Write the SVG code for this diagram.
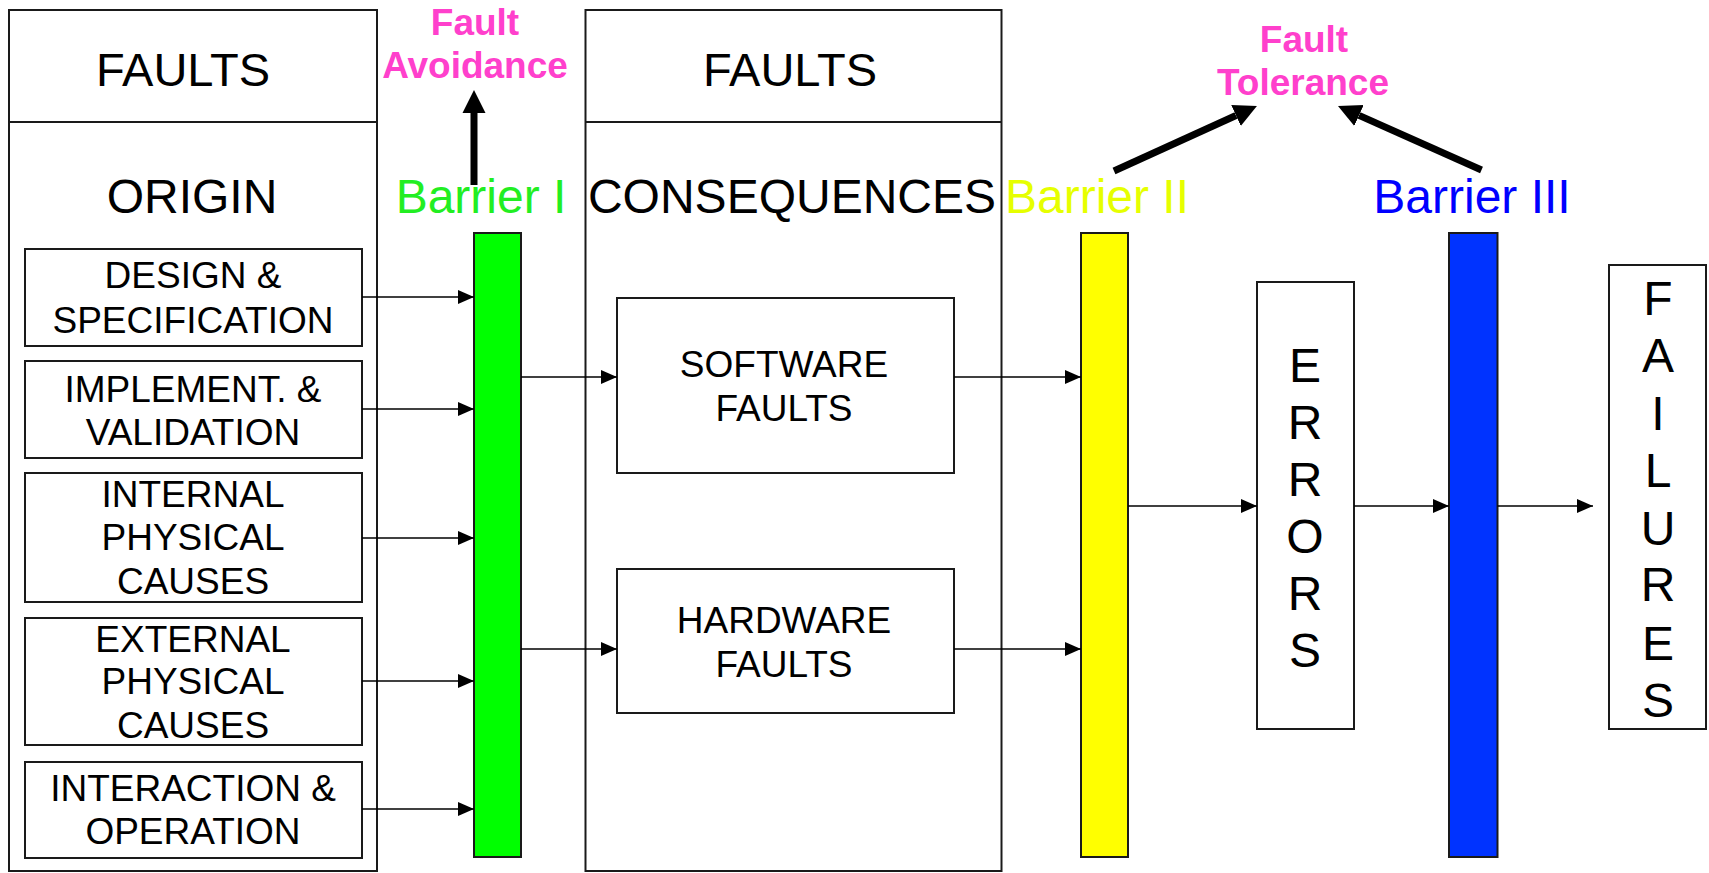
<svg xmlns="http://www.w3.org/2000/svg" width="1709" height="873" viewBox="0 0 1709 873">
  <defs>
    <marker id="tip" markerWidth="16" markerHeight="14" refX="16" refY="7" orient="auto" markerUnits="userSpaceOnUse">
      <path d="M0,0 L16,7 L0,14 z" fill="#000"/>
    </marker>
    <marker id="bigtip" markerWidth="24" markerHeight="24" refX="0" refY="12" orient="auto" markerUnits="userSpaceOnUse">
      <path d="M0,0.5 L23,12 L0,23.5 z" fill="#000"/>
    </marker>
    <style>
      .box { fill: #fff; stroke: #1a1a1a; stroke-width: 2; }
      .bar { stroke: #1a1a1a; stroke-width: 2; }
      .t { font-family: "Liberation Sans", Arial, sans-serif; text-anchor: middle; fill: #000; }
      .big { font-size: 48px; }
      .mid { font-size: 37px; }
      .col { font-size: 48px; }
      .pink { font-family: "Liberation Sans", Arial, sans-serif; font-weight: bold; font-size: 37px; fill: #FF40CC; text-anchor: middle; }
      .conn { stroke: #000; stroke-width: 1.5; fill: none; marker-end: url(#tip); }
      .thick { stroke: #000; stroke-width: 7; fill: none; marker-end: url(#bigtip); }
    </style>
  </defs>
  <rect width="1709" height="873" fill="#fff"/>

  <!-- Origin column -->
  <g id="origin-panel">
    <rect class="box" x="9" y="10" width="368" height="861"/>
    <line x1="9" y1="122" x2="377" y2="122" stroke="#1a1a1a" stroke-width="2"/>
    <text class="t big" x="183" y="86" style="font-size:47px">FAULTS</text>
    <text class="t big" x="192" y="213">ORIGIN</text>
  </g>

  <g id="design-spec">
    <rect class="box" x="25" y="249" width="337" height="97"/>
    <text class="t mid" x="193" y="288">DESIGN &amp;</text>
    <text class="t mid" x="193" y="333">SPECIFICATION</text>
  </g>
  <g id="implement-validation">
    <rect class="box" x="25" y="361" width="337" height="97"/>
    <text class="t mid" x="193" y="402">IMPLEMENT. &amp;</text>
    <text class="t mid" x="193" y="445">VALIDATION</text>
  </g>
  <g id="internal-physical">
    <rect class="box" x="25" y="473" width="337" height="129"/>
    <text class="t mid" x="193" y="507">INTERNAL</text>
    <text class="t mid" x="193" y="550">PHYSICAL</text>
    <text class="t mid" x="193" y="594">CAUSES</text>
  </g>
  <g id="external-physical">
    <rect class="box" x="25" y="618" width="337" height="127"/>
    <text class="t mid" x="193" y="652">EXTERNAL</text>
    <text class="t mid" x="193" y="694">PHYSICAL</text>
    <text class="t mid" x="193" y="738">CAUSES</text>
  </g>
  <g id="interaction-operation">
    <rect class="box" x="25" y="762" width="337" height="96"/>
    <text class="t mid" x="193" y="801">INTERACTION &amp;</text>
    <text class="t mid" x="193" y="844">OPERATION</text>
  </g>

  <!-- Barrier I -->
  <g id="barrier-1">
    <text class="t big" x="481" y="213" style="fill:#22EE22">Barrier I</text>
    <rect class="bar" x="474" y="233" width="47" height="624" fill="#00FF00"/>
  </g>

  <g id="fault-avoidance">
    <text class="pink" x="475" y="35">Fault</text>
    <text class="pink" x="475" y="78">Avoidance</text>
  </g>

  <!-- Consequences column -->
  <g id="consequences-panel">
    <rect class="box" x="585.5" y="10" width="416" height="861"/>
    <line x1="585.5" y1="122" x2="1001.5" y2="122" stroke="#1a1a1a" stroke-width="2"/>
    <text class="t big" x="790" y="86" style="font-size:47px">FAULTS</text>
    <text class="t big" x="792" y="213">CONSEQUENCES</text>
  </g>
  <g id="software-faults">
    <rect class="box" x="617" y="298" width="337" height="175"/>
    <text class="t mid" x="784" y="377">SOFTWARE</text>
    <text class="t mid" x="784" y="421">FAULTS</text>
  </g>
  <g id="hardware-faults">
    <rect class="box" x="617" y="569" width="337" height="144"/>
    <text class="t mid" x="784" y="633">HARDWARE</text>
    <text class="t mid" x="784" y="677">FAULTS</text>
  </g>

  <!-- Barrier II -->
  <g id="barrier-2">
    <text class="t big" x="1097" y="213" style="fill:#E6FF00">Barrier II</text>
    <rect class="bar" x="1081" y="233" width="47" height="624" fill="#FFFF00"/>
  </g>

  <g id="fault-tolerance">
    <text class="pink" x="1304" y="52">Fault</text>
    <text class="pink" x="1303" y="95">Tolerance</text>
  </g>

  <!-- Barrier III -->
  <g id="barrier-3">
    <text class="t big" x="1472" y="213" style="fill:#0000FF">Barrier III</text>
    <rect class="bar" x="1449" y="233" width="48.5" height="624" fill="#0033FF"/>
  </g>

  <g id="errors">
    <rect class="box" x="1257" y="282" width="97" height="447"/>
    <text class="t col" x="1305" y="382">E</text>
    <text class="t col" x="1305" y="439">R</text>
    <text class="t col" x="1305" y="496">R</text>
    <text class="t col" x="1305" y="553">O</text>
    <text class="t col" x="1305" y="610">R</text>
    <text class="t col" x="1305" y="667">S</text>
  </g>

  <g id="failures">
    <rect class="box" x="1609" y="265" width="97" height="464"/>
    <text class="t col" x="1658" y="315">F</text>
    <text class="t col" x="1658" y="372">A</text>
    <text class="t col" x="1658" y="430">I</text>
    <text class="t col" x="1658" y="487">L</text>
    <text class="t col" x="1658" y="545">U</text>
    <text class="t col" x="1658" y="601">R</text>
    <text class="t col" x="1658" y="660">E</text>
    <text class="t col" x="1658" y="717">S</text>
  </g>

  <!-- Connectors -->
  <g id="connectors">
    <line class="conn" x1="362" y1="297" x2="474" y2="297"/>
    <line class="conn" x1="362" y1="409" x2="474" y2="409"/>
    <line class="conn" x1="362" y1="538" x2="474" y2="538"/>
    <line class="conn" x1="362" y1="681" x2="474" y2="681"/>
    <line class="conn" x1="362" y1="809" x2="474" y2="809"/>

    <line class="conn" x1="521" y1="377" x2="617" y2="377"/>
    <line class="conn" x1="521" y1="649" x2="617" y2="649"/>

    <line class="conn" x1="954" y1="377" x2="1081" y2="377"/>
    <line class="conn" x1="954" y1="649" x2="1081" y2="649"/>

    <line class="conn" x1="1128" y1="506" x2="1257" y2="506"/>
    <line class="conn" x1="1354" y1="506" x2="1449" y2="506"/>
    <line class="conn" x1="1497.5" y1="506" x2="1593" y2="506"/>

    <line class="thick" x1="474" y1="185" x2="474" y2="113"/>
    <line class="thick" x1="1114" y1="171" x2="1236" y2="115.5"/>
    <line class="thick" x1="1481.5" y1="170" x2="1359" y2="115.4"/>
  </g>
</svg>
